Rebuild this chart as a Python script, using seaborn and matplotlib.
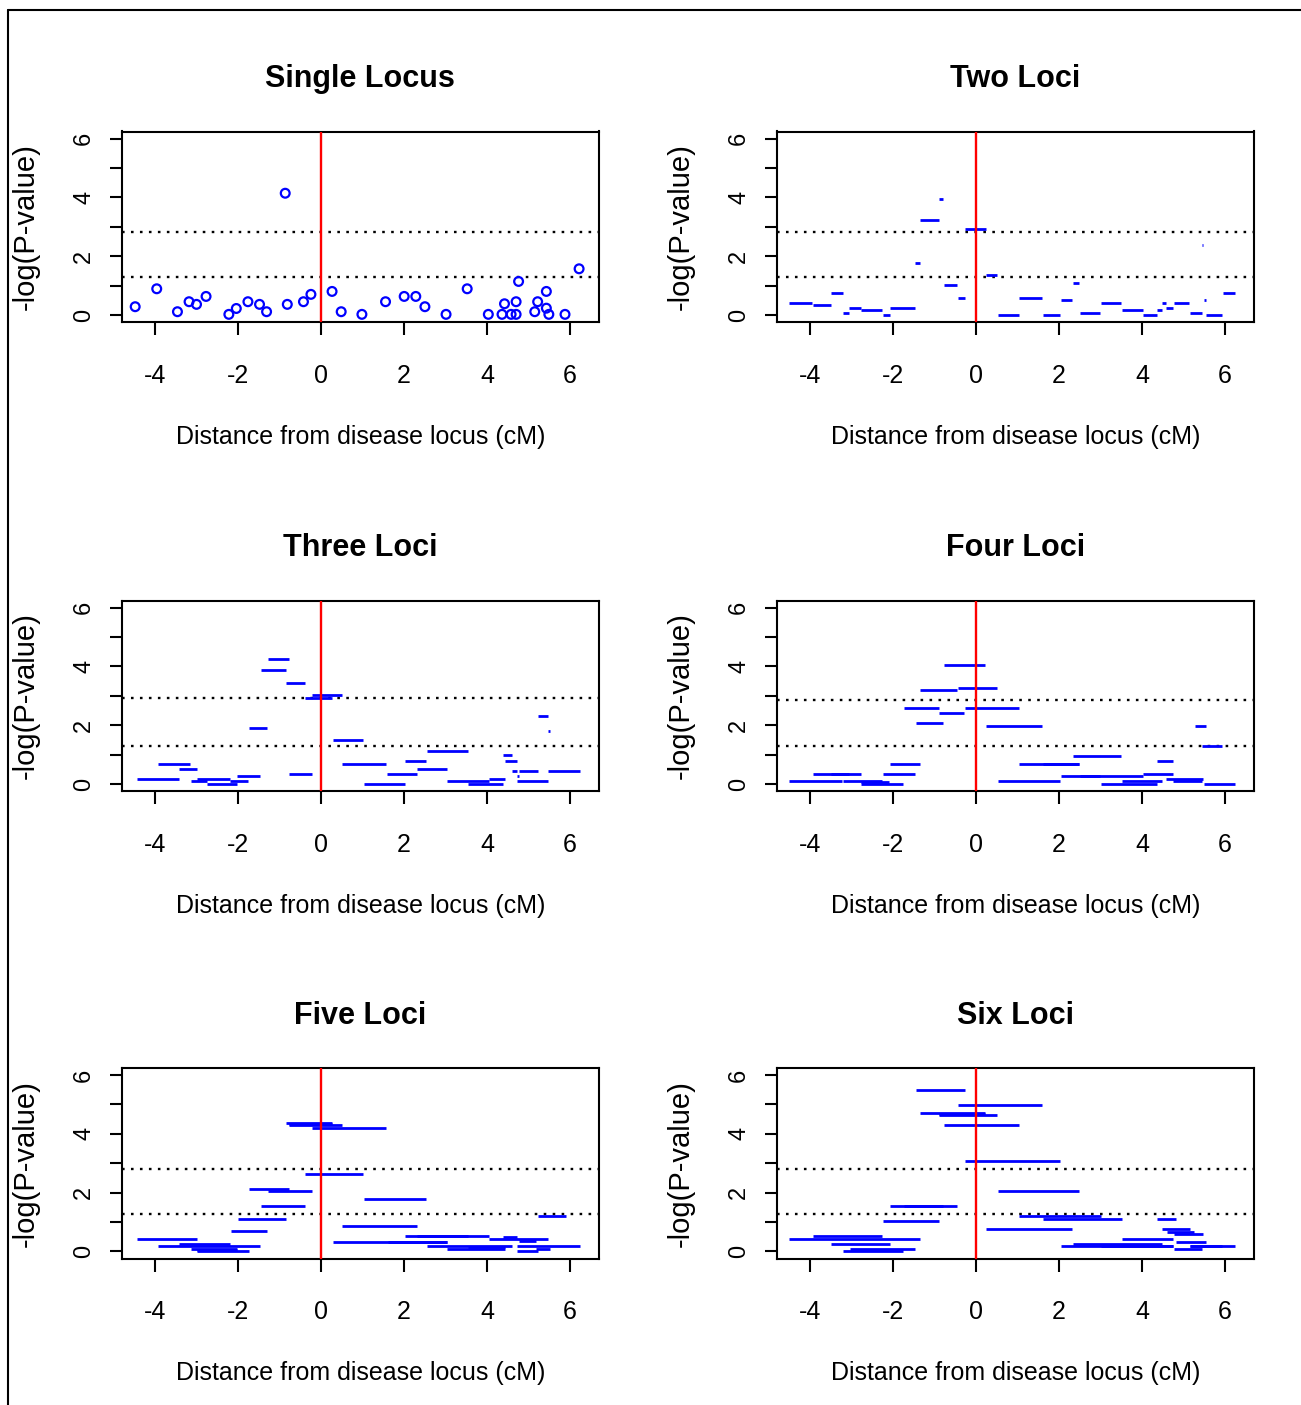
import numpy as np
import pandas as pd
import matplotlib.pyplot as plt
import seaborn as sns
from matplotlib.lines import Line2D

# ======================
# DATA
# ======================
single_x = [-4.49, -3.97, -3.47, -3.19, -3.01, -2.78, -2.23, -2.05, -1.77, -1.49,
            -1.32, -0.87, -0.82, -0.43, -0.25, 0.26, 0.48, 0.98, 1.55, 2.00,
            2.28, 2.50, 3.01, 3.52, 4.03, 4.36, 4.42, 4.58, 4.70, 4.70,
            4.76, 5.15, 5.22, 5.43, 5.43, 5.49, 5.88, 6.22]
single_y = [0.28, 0.89, 0.11, 0.45, 0.36, 0.63, 0.02, 0.22, 0.45, 0.36,
            0.11, 4.14, 0.36, 0.45, 0.70, 0.80, 0.11, 0.02, 0.45, 0.63,
            0.63, 0.28, 0.02, 0.89, 0.02, 0.02, 0.38, 0.02, 0.02, 0.45,
            1.14, 0.11, 0.45, 0.80, 0.23, 0.02, 0.02, 1.57]

# haplotype windows: (start, end, -log p)
two_loci = [(-4.51, -3.97, 0.41), (-3.95, -3.51, 0.33), (-3.50, -3.22, 0.75),
            (-3.21, -3.06, 0.07), (-3.06, -2.78, 0.24), (-2.77, -2.27, 0.16),
            (-2.26, -2.09, 0.00), (-2.08, -1.48, 0.24), (-1.47, -1.37, 1.78),
            (-1.35, -0.90, 3.24), (-0.90, -0.80, 3.93), (-0.78, -0.46, 1.01),
            (-0.44, -0.28, 0.58), (-0.27, 0.23, 2.91), (0.23, 0.51, 1.35),
            (0.52, 1.02, 0.00), (1.03, 1.59, 0.58), (1.60, 2.03, 0.00),
            (2.04, 2.32, 0.50), (2.33, 2.49, 1.09), (2.50, 2.99, 0.07),
            (3.00, 3.50, 0.41), (3.51, 4.02, 0.16), (4.02, 4.35, 0.00),
            (4.36, 4.47, 0.16), (4.48, 4.57, 0.41), (4.58, 4.75, 0.24),
            (4.76, 4.78, 0.58), (4.76, 5.14, 0.41), (5.15, 5.44, 0.07),
            (5.44, 5.48, 2.39), (5.50, 5.54, 0.50), (5.55, 5.94, 0.00),
            (5.95, 6.23, 0.75)]

three_loci = [(-4.45, -3.44, 0.18), (-3.94, -3.16, 0.69), (-3.43, -2.99, 0.52),
              (-3.15, -2.76, 0.09), (-2.99, -2.20, 0.18), (-2.75, -2.04, 0.00),
              (-2.20, -1.76, 0.09), (-2.03, -1.47, 0.26), (-1.75, -1.30, 1.90),
              (-1.46, -0.85, 3.86), (-1.29, -0.79, 4.24), (-0.84, -0.40, 3.44),
              (-0.79, -0.23, 0.35), (-0.39, 0.27, 2.93), (-0.22, 0.50, 3.02),
              (0.29, 1.00, 1.48), (0.51, 1.57, 0.69), (1.02, 2.02, 0.00),
              (1.58, 2.30, 0.35), (2.03, 2.53, 0.78), (2.31, 3.03, 0.52),
              (2.54, 3.54, 1.12), (3.04, 4.04, 0.09), (3.55, 4.38, 0.00),
              (4.05, 4.44, 0.18), (4.39, 4.61, 0.98), (4.44, 4.72, 0.78),
              (4.61, 4.72, 0.43), (4.73, 4.78, 0.26), (4.73, 5.46, 0.09),
              (4.78, 5.23, 0.43), (5.24, 5.46, 2.32), (5.47, 5.51, 1.81),
              (5.47, 6.24, 0.43)]

four_loci = [(-4.51, -3.23, 0.09), (-3.95, -2.78, 0.35), (-3.50, -3.06, 0.33),
             (-3.22, -2.27, 0.11), (-2.77, -2.10, 0.06), (-2.77, -1.76, 0.00),
             (-2.25, -1.48, 0.35), (-2.08, -1.36, 0.69), (-1.74, -0.91, 2.58),
             (-1.46, -0.80, 2.07), (-1.35, -0.46, 3.18), (-0.90, -0.29, 2.42),
             (-0.78, 0.22, 4.05), (-0.44, 0.51, 3.28), (-0.27, 1.02, 2.58),
             (0.24, 1.58, 1.98), (0.52, 2.03, 0.09), (1.03, 2.49, 0.69),
             (1.60, 2.49, 0.67), (2.04, 4.02, 0.26), (2.50, 2.99, 0.28),
             (2.33, 3.50, 0.95), (3.01, 4.35, 0.01), (3.52, 4.47, 0.09),
             (4.02, 4.75, 0.35), (4.36, 4.75, 0.78), (4.58, 5.48, 0.18),
             (4.75, 5.44, 0.11), (5.27, 5.55, 1.98), (5.44, 5.94, 1.30),
             (5.50, 6.23, 0.01)]

five_loci = [(-4.45, -2.99, 0.42), (-3.94, -1.47, 0.17), (-3.43, -2.20, 0.25),
             (-3.15, -2.04, 0.09), (-2.99, -1.75, 0.00), (-2.99, -2.04, 0.04),
             (-2.19, -1.30, 0.68), (-2.02, -0.85, 1.11), (-1.74, -0.79, 2.14),
             (-1.29, -0.23, 2.06), (-1.46, -0.40, 1.53), (-0.84, 0.27, 4.38),
             (-0.79, 0.50, 4.31), (-0.79, 0.27, 4.35), (-0.22, 1.57, 4.19),
             (-0.39, 1.00, 2.65), (1.02, 2.53, 1.80), (0.51, 2.30, 0.85),
             (0.29, 3.03, 0.33), (1.60, 3.03, 0.31), (2.03, 4.04, 0.51),
             (2.31, 3.54, 0.53), (2.54, 4.61, 0.17), (3.04, 4.44, 0.09),
             (3.55, 4.44, 0.15), (4.05, 5.46, 0.42), (4.39, 4.73, 0.50),
             (4.78, 5.17, 0.34), (4.73, 6.24, 0.17), (4.73, 5.23, 0.00),
             (5.17, 5.51, 0.09), (5.24, 5.91, 1.19)]

six_loci = [(-1.46, -0.28, 5.49), (-0.44, 1.59, 4.98), (-1.35, 0.22, 4.72),
            (-0.90, 0.51, 4.64), (-0.90, 0.22, 4.68), (-0.78, 1.02, 4.30),
            (-0.27, 2.03, 3.09), (0.52, 2.49, 2.06), (-2.08, -0.46, 1.53),
            (-1.74, -0.80, 1.56), (-2.25, -0.91, 1.02), (1.03, 3.00, 1.20),
            (1.60, 3.51, 1.11), (4.36, 4.81, 1.11), (0.24, 2.32, 0.76),
            (4.48, 5.15, 0.76), (4.59, 5.26, 0.67), (4.76, 5.48, 0.59),
            (3.52, 4.75, 0.42), (4.81, 5.55, 0.33), (-3.95, -2.27, 0.51),
            (-4.51, -1.36, 0.42), (-3.50, -2.09, 0.25), (-3.04, -1.48, 0.08),
            (-3.21, -1.76, 0.00), (2.04, 4.75, 0.17), (2.33, 4.47, 0.25),
            (3.01, 4.75, 0.19), (4.76, 5.44, 0.08), (5.15, 6.23, 0.17),
            (5.15, 5.94, 0.19)]

titles = ["Single Locus", "Two Loci", "Three Loci", "Four Loci", "Five Loci", "Six Loci"]
upper_cut = [2.82, 2.82, 2.93, 2.84, 2.82, 2.82]
lower_cut = [1.28, 1.30, 1.30, 1.30, 1.28, 1.28]
x_ticks = [-4, -2, 0, 2, 4, 6]
y_ticks = [0, 1, 2, 3, 4, 5, 6]
y_ticklabels = ["0", "", "2", "", "4", "", "6"]

# ======================
# STYLE
# ======================
sns.set_theme(style="white")
plt.rcParams['font.family'] = ['Liberation Sans', 'DejaVu Sans']
plt.rcParams['text.color'] = 'black'
plt.rcParams['axes.labelcolor'] = 'black'
plt.rcParams['xtick.color'] = 'black'
plt.rcParams['ytick.color'] = 'black'

W, H = 1301, 1405
fig = plt.figure(figsize=(W / 100, H / 100), dpi=100)

col_left = [121.5, 776.5]
row_bottom = [322.0, 791.0, 1258.5]
ax_w, ax_h = 477.5, 190.5

panels = [None, two_loci, three_loci, four_loci, five_loci, six_loci]

for i, title in enumerate(titles):
    r, c = divmod(i, 2)
    ax = fig.add_axes([col_left[c] / W, 1 - row_bottom[r] / H, ax_w / W, ax_h / H])

    if i == 0:
        pts = pd.DataFrame({"dist": single_x, "logp": single_y})
        sns.scatterplot(data=pts, x="dist", y="logp", ax=ax, s=40,
                        facecolor="none", edgecolor="blue", linewidth=1.6, zorder=3)
    else:
        seg = pd.DataFrame(panels[i], columns=["start", "end", "logp"])
        ax.hlines(seg["logp"], seg["start"], seg["end"], color="blue", lw=2.0, zorder=3)

    ax.axvline(0, color="red", lw=1.7, zorder=4)
    for v in (upper_cut[i], lower_cut[i]):
        ax.axhline(v, color="black", lw=1.7, linestyle=(0, (1.1, 2.7)), zorder=2)

    ax.set_xlim(-4.82, 6.70)
    ax.set_ylim(-0.24, 6.24)
    ax.set_xticks(x_ticks)
    ax.set_xticklabels([str(t) for t in x_ticks])
    ax.set_yticks(y_ticks)
    ax.set_yticklabels(y_ticklabels)

    ax.tick_params(axis="x", direction="out", length=9, width=1.5, pad=21,
                   labelsize=18, colors="black", bottom=True)
    ax.tick_params(axis="y", direction="out", length=9, width=1.5, pad=10,
                   labelsize=17, colors="black", left=True, labelrotation=90)
    for lab in ax.get_yticklabels():
        lab.set_va("center")

    for sp in ax.spines.values():
        sp.set_color("black")
        sp.set_linewidth(1.5)

    ax.set_title(title, fontsize=22, fontweight="bold", pad=32, color="black")
    ax.set_xlabel("Distance from disease locus (cM)", fontsize=18)
    ax.set_ylabel("-log(P-value)", fontsize=21)
    ax.xaxis.set_label_coords(0.5, -0.54)
    ax.yaxis.set_label_coords(-0.172, 0.5)

# outer frame (top and left edges)
fig.add_artist(Line2D([8 / W, 1.0], [1 - 10 / H, 1 - 10 / H], color="black", lw=1.5))
fig.add_artist(Line2D([8 / W, 8 / W], [1 - 10 / H, 0.0], color="black", lw=1.5))

fig.savefig("out.png", dpi=100)
